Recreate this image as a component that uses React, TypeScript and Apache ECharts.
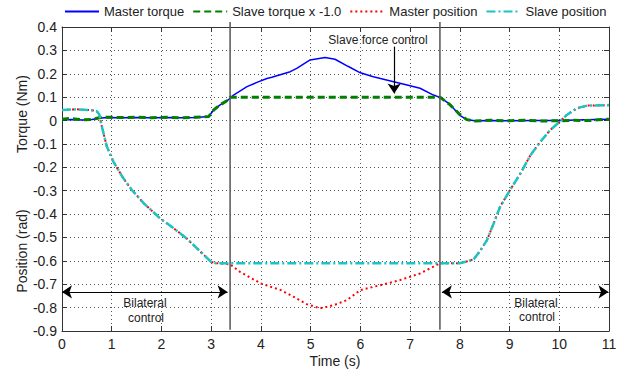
import { useEffect, useRef } from 'react';
import * as echarts from 'echarts';

// ---- data (time in s, torque in Nm / position in rad) ----
const masterTorqueT = [0, 0.2, 0.4, 0.6, 0.75, 0.9, 1.2, 1.5, 1.8, 2.1, 2.4, 2.7, 2.95, 3.05, 3.18, 3.34, 3.45, 3.72, 3.92, 4.12, 4.22, 4.59, 4.72, 4.99, 5.29, 5.49, 5.75, 6.0, 6.26, 6.67, 6.94, 7.2, 7.47, 7.6, 7.8, 8.0, 8.14, 8.3, 8.6, 9.0, 9.5, 10.0, 10.5, 11.0];
const masterTorqueV = [0.003, 0.004, 0.002, 0.004, 0.01, 0.013, 0.012, 0.013, 0.012, 0.013, 0.012, 0.013, 0.017, 0.045, 0.067, 0.088, 0.109, 0.145, 0.163, 0.18, 0.185, 0.209, 0.223, 0.259, 0.27, 0.262, 0.232, 0.204, 0.187, 0.166, 0.152, 0.138, 0.109, 0.099, 0.07, 0.022, 0.004, -0.001, 0.0, -0.001, 0.0, 0.0, 0.003, 0.005];

const slaveTorqueT = [0, 0.15, 0.3, 0.45, 0.6, 0.75, 0.9, 1.2, 1.5, 1.8, 2.1, 2.4, 2.7, 2.95, 3.05, 3.18, 3.34, 3.38, 4.5, 5.5, 6.5, 7.6, 7.8, 8.0, 8.14, 8.3, 8.6, 9.0, 9.3, 9.6, 10.0, 10.3, 10.6, 11.0];
const slaveTorqueV = [0.006, 0.009, 0.006, 0.003, 0.005, 0.012, 0.014, 0.013, 0.014, 0.012, 0.014, 0.012, 0.014, 0.017, 0.045, 0.067, 0.088, 0.1, 0.1, 0.1, 0.1, 0.1, 0.068, 0.026, 0.004, -0.002, 0.001, -0.001, 0.001, -0.002, -0.001, 0.001, 0.0, 0.006];

const slavePosT = [0, 0.3, 0.6, 0.7, 0.75, 0.8, 0.9, 1.03, 1.23, 1.4, 1.64, 1.97, 2.24, 2.5, 2.78, 3.0, 3.1, 4.0, 5.0, 6.0, 7.0, 8.0, 8.1, 8.28, 8.41, 8.55, 8.68, 8.81, 9.01, 9.22, 9.42, 9.62, 9.82, 10.0, 10.15, 10.36, 10.56, 11.0];
const slavePosV = [0.045, 0.048, 0.044, 0.04, 0.026, -0.024, -0.11, -0.175, -0.246, -0.296, -0.353, -0.418, -0.46, -0.503, -0.56, -0.605, -0.61, -0.61, -0.61, -0.61, -0.61, -0.61, -0.605, -0.593, -0.557, -0.51, -0.44, -0.369, -0.297, -0.226, -0.148, -0.091, -0.04, -0.007, 0.024, 0.053, 0.064, 0.066];

const masterPosT = [0, 0.3, 0.6, 0.7, 0.75, 0.8, 0.9, 1.03, 1.23, 1.4, 1.64, 1.97, 2.24, 2.5, 2.78, 3.0, 3.1, 3.38, 3.58, 4.0, 4.4, 4.65, 4.92, 5.19, 5.46, 5.73, 6.0, 6.4, 6.8, 7.2, 7.47, 7.6, 8.0, 8.1, 8.28, 8.41, 8.55, 8.68, 8.81, 9.01, 9.22, 9.42, 9.62, 9.82, 10.0, 10.15, 10.36, 10.56, 11.0];
const masterPosV = [0.045, 0.048, 0.044, 0.04, 0.026, -0.024, -0.11, -0.175, -0.246, -0.296, -0.353, -0.418, -0.46, -0.503, -0.56, -0.605, -0.61, -0.615, -0.647, -0.697, -0.725, -0.753, -0.785, -0.803, -0.79, -0.768, -0.725, -0.704, -0.682, -0.654, -0.625, -0.61, -0.61, -0.605, -0.593, -0.557, -0.51, -0.44, -0.369, -0.297, -0.226, -0.148, -0.091, -0.04, -0.007, 0.024, 0.053, 0.064, 0.066];

// mode boundaries (s) and annotation positions in data units
const modeBoundaries = [3.38, 7.6];
const boundaryRange = [0.421, -0.895];
const forceArrow = { t: 6.68, from: 0.316, to: 0.116 };
const bilateralArrows = [
  { from: 0, to: 3.33, v: -0.733 },
  { from: 7.64, to: 10.99, v: -0.733 },
];

const seriesNames = ['Master torque', 'Slave torque x -1.0', 'Master position', 'Slave position'];

const zip = (t: number[], v: number[]) => t.map((x, i) => [x, v[i]]);

const FONT = 'Liberation Sans, Arial, sans-serif';
const TXT = '#222';

export default function App() {
  const ref = useRef<HTMLDivElement>(null);
  useEffect(() => {
    if (!ref.current) return;
    const chart = echarts.init(ref.current, null, { renderer: 'svg' });
    const axisCommon = {
      type: 'value' as const,
      axisLine: { show: true, onZero: false, lineStyle: { color: '#333', width: 1 } },
      axisTick: { show: true, inside: true, length: 5, lineStyle: { color: '#333' } },
    };
    const boundarySeries = modeBoundaries.map((t, i) => ({
      name: 'boundary' + i,
      type: 'line',
      data: [[t, boundaryRange[0]], [t, boundaryRange[1]]],
      symbol: 'none',
      clip: false,
      silent: true,
      lineStyle: { color: '#555', width: 1.5 },
      z: 6,
    }));
    const textStyle = (size: number) => ({
      font: `${size}px ${FONT}`,
      fill: TXT,
      align: 'center',
      verticalAlign: 'middle',
      textAlign: 'center',
      textVerticalAlign: 'middle',
    });
    chart.setOption({
      animation: false,
      textStyle: { fontFamily: FONT },
      legend: {
        data: seriesNames,
        left: 59,
        top: 0,
        itemWidth: 34,
        itemHeight: 14,
        itemGap: 8,
        itemStyle: { opacity: 0, borderWidth: 0 },
        textStyle: { fontSize: 13, color: TXT, fontFamily: FONT },
        selectedMode: false,
      },
      grid: { left: 62, right: 27, top: 27, bottom: 48, containLabel: false },
      xAxis: [
        {
          ...axisCommon,
          min: 0,
          max: 11,
          interval: 1,
          position: 'bottom',
          axisLabel: { fontSize: 14, color: TXT, margin: 6, fontFamily: FONT },
          splitLine: { show: true, lineStyle: { color: '#555', type: [1, 3], width: 1 } },
        },
        {
          ...axisCommon,
          min: 0,
          max: 11,
          interval: 1,
          position: 'top',
          axisLabel: { show: false },
          splitLine: { show: false },
        },
      ],
      yAxis: [
        {
          ...axisCommon,
          min: -0.9,
          max: 0.4,
          interval: 0.1,
          position: 'left',
          axisLabel: {
            fontSize: 14,
            color: TXT,
            margin: 5,
            fontFamily: FONT,
            formatter: (v: number) => String(Math.round(v * 10) / 10),
          },
          splitLine: { show: true, lineStyle: { color: '#555', type: [1, 3], width: 1 } },
        },
        {
          ...axisCommon,
          min: -0.9,
          max: 0.4,
          interval: 0.1,
          position: 'right',
          axisLabel: { show: false },
          splitLine: { show: false },
        },
      ],
      series: [
        {
          name: seriesNames[0],
          type: 'line',
          data: zip(masterTorqueT, masterTorqueV),
          symbol: 'none',
          lineStyle: { color: '#0000ff', width: 1.5 },
          itemStyle: { color: '#0000ff' },
          z: 2,
        },
        {
          name: seriesNames[1],
          type: 'line',
          data: zip(slaveTorqueT, slaveTorqueV),
          symbol: 'none',
          lineStyle: { color: '#008000', width: 3, type: [7, 4] },
          itemStyle: { color: '#008000' },
          z: 3,
        },
        {
          name: seriesNames[2],
          type: 'line',
          data: zip(masterPosT, masterPosV),
          symbol: 'none',
          lineStyle: { color: '#ff0000', width: 2, type: [2, 3] },
          itemStyle: { color: '#ff0000' },
          z: 4,
        },
        {
          name: seriesNames[3],
          type: 'line',
          data: zip(slavePosT, slavePosV),
          symbol: 'none',
          lineStyle: { color: '#1cc4c4', width: 2.5, type: [9, 3, 2, 3] },
          itemStyle: { color: '#1cc4c4' },
          z: 5,
        },
        ...boundarySeries,
        {
          name: 'annotations',
          type: 'line',
          data: [],
          silent: true,
          z: 7,
          markLine: {
            silent: true,
            symbol: ['arrow', 'arrow'],
            symbolSize: 10,
            label: { show: false },
            emphasis: { disabled: true },
            lineStyle: { color: '#000', width: 1.2, type: 'solid' },
            data: [
              [
                { coord: [forceArrow.t, forceArrow.from], symbol: 'none' },
                { coord: [forceArrow.t, forceArrow.to], symbol: 'arrow' },
              ],
              ...bilateralArrows.map((a) => [
                { coord: [a.from, a.v] },
                { coord: [a.to, a.v] },
              ]),
            ],
          },
        },
      ],
      graphic: [
        { type: 'text', x: 22, y: 114, rotation: Math.PI / 2, style: { text: 'Torque (Nm)', ...textStyle(14) } },
        { type: 'text', x: 22, y: 251, rotation: Math.PI / 2, style: { text: 'Position (rad)', ...textStyle(14) } },
        { type: 'text', x: 335, y: 361, style: { text: 'Time (s)', ...textStyle(14) } },
        { type: 'text', x: 378, y: 40, style: { text: 'Slave force control', ...textStyle(12) } },
        { type: 'text', x: 145, y: 303, style: { text: 'Bilateral', ...textStyle(12) } },
        { type: 'text', x: 146, y: 318, style: { text: 'control', ...textStyle(12) } },
        { type: 'text', x: 536, y: 303, style: { text: 'Bilateral', ...textStyle(12) } },
        { type: 'text', x: 537, y: 317, style: { text: 'control', ...textStyle(12) } },
      ],
    });
    return () => chart.dispose();
  }, []);
  return <div ref={ref} style={{ width: 636, height: 379, position: 'absolute', left: 0, top: 0 }} />;
}
